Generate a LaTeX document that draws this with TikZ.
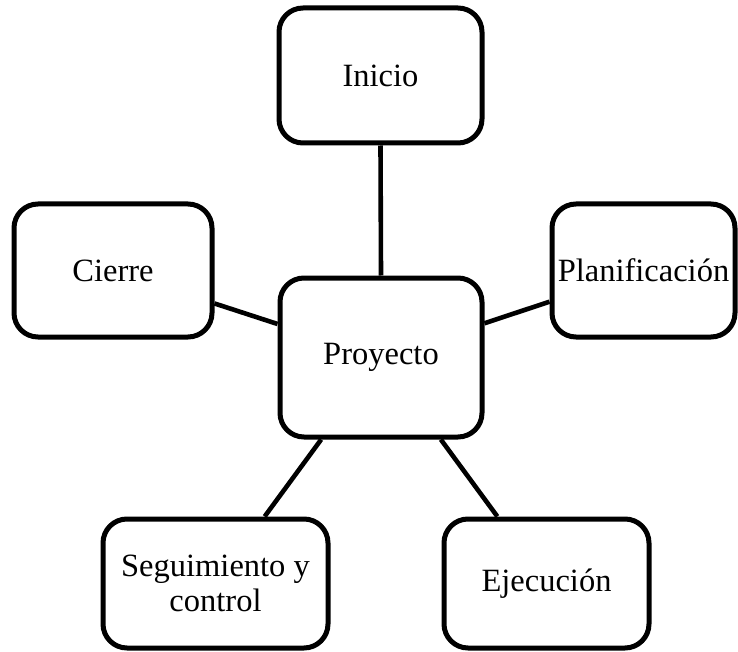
\documentclass[tikz,border=0pt]{standalone}
\usepackage{fontspec}
\setmainfont{Liberation Serif}
\begin{document}
\begin{tikzpicture}[x=1pt,y=-1pt,
  phase/.style={draw=black, fill=white, line width=5pt, rounded corners=24pt,
    rectangle, inner sep=0pt, align=center,
    font=\fontsize{32.5}{35}\selectfont},
  link/.style={draw=black, line width=4.6pt}]
  \useasboundingbox (0,0) rectangle (738,652);
  % central project box and its five phases
  \node[phase, minimum width=202pt, minimum height=159pt] (proj) at (381,357.5) {Proyecto};
  \node[phase, minimum width=203pt, minimum height=135pt] (ini) at (380.5,75.5) {Inicio};
  \node[phase, minimum width=198pt, minimum height=133pt] (cie) at (113,270.5) {Cierre};
  \node[phase, minimum width=183pt, minimum height=133pt] (pla) at (643.5,270.5) {Planificación};
  \node[phase, minimum width=225pt, minimum height=129pt] (seg) at (215.5,583.5) {Seguimiento y\\control};
  \node[phase, minimum width=205pt, minimum height=129pt] (eje) at (546.5,583.5) {Ejecución};
  % connectors from the centre to each phase
  \draw[link] (ini.south) -- (proj.north);
  \draw[link] (cie) -- (proj);
  \draw[link] (pla) -- (proj);
  \draw[link] (seg) -- (proj);
  \draw[link] (eje) -- (proj);
\end{tikzpicture}
\end{document}
